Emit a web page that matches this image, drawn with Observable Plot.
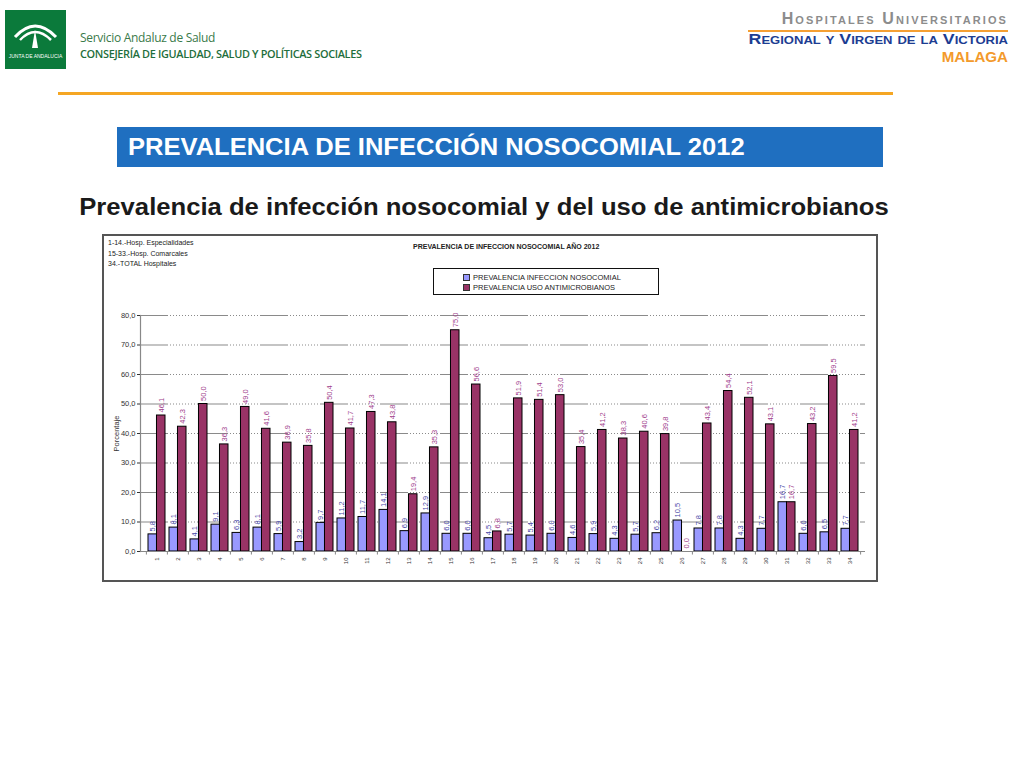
<!DOCTYPE html>
<html>
<head>
<meta charset="utf-8">
<script src="https://cdn.jsdelivr.net/npm/d3@7"></script>
<script src="https://cdn.jsdelivr.net/npm/@observablehq/plot@0.6"></script>
<style>
  body { margin:0; width:1024px; height:768px; background:#fff; font-family:"Liberation Sans", Arial, sans-serif; position:relative; overflow:hidden; }
  .abs { position:absolute; }
  #chartbox { left:103px; top:235px; width:774px; height:346px; outline:2px solid #555; outline-offset:-1px; }
  #chartbox svg { position:absolute; left:0; top:0; }
  .note { font-size:7px; color:#222; line-height:10.5px; }
</style>
</head>
<body>
<!-- Header left -->
<svg class="abs" style="left:5px;top:10px" width="61" height="59" viewBox="0 0 61 59">
  <rect width="61" height="59" fill="#0b7a3b"/>
  <path d="M10 27 Q30 5 51 27" fill="none" stroke="#fff" stroke-width="3"/>
  <path d="M15 30 Q30 14 46 30" fill="none" stroke="#fff" stroke-width="2.5"/>
  <path d="M30 20 L27 38 L33 38 Z" fill="#fff"/>
  <text x="30.5" y="48" text-anchor="middle" font-size="5" fill="#fff" font-family="Liberation Sans">JUNTA DE ANDALUCIA</text>
</svg>
<div class="abs" style="left:80px;top:29px;font-family:'Open Sans';font-size:12px;color:#3a7a4a;letter-spacing:-0.3px">Servicio Andaluz de Salud</div>
<div class="abs" style="left:80px;top:46px;font-family:'Open Sans';font-size:11.3px;font-weight:600;color:#1e6e3c;letter-spacing:-0.35px;white-space:nowrap;transform:scaleX(0.965);transform-origin:left">CONSEJERÍA DE IGUALDAD, SALUD Y POLÍTICAS SOCIALES</div>

<!-- Header right -->
<div class="abs" style="left:749px;top:10px;width:259px;text-align:right;font-size:16px;font-weight:bold;font-variant:small-caps;letter-spacing:2.1px;color:#8c8c8c;white-space:nowrap">Hospitales Universitarios</div>
<div class="abs" style="left:748px;top:30px;width:260px;height:2px;background:#f5a033"></div>
<div class="abs" style="left:749px;top:30px;width:259px;text-align:right;font-size:15px;font-weight:bold;font-variant:small-caps;color:#1c3d92;white-space:nowrap;transform:scaleX(1.185);transform-origin:right">Regional y Virgen de la Victoria</div>
<div class="abs" style="left:900px;top:49px;width:108px;text-align:right;font-size:14px;font-weight:bold;color:#f39a2b;transform:scaleX(1.08);transform-origin:right">MALAGA</div>

<div class="abs" style="left:58px;top:92px;width:835px;height:3px;background:#f5a623"></div>

<div class="abs" style="left:117px;top:127px;width:766px;height:40px;background:#1f6fc0"></div>
<div class="abs" style="left:128px;top:134px;font-size:23px;font-weight:bold;color:#fff;white-space:nowrap;transform:scaleX(1.11);transform-origin:left">PREVALENCIA DE INFECCIÓN NOSOCOMIAL 2012</div>

<div class="abs" style="left:80px;top:194px;width:808px;text-align:center;font-size:23px;font-weight:bold;color:#1a1a1a;white-space:nowrap;transform:scaleX(1.115);transform-origin:center">Prevalencia de infección nosocomial y del uso de antimicrobianos</div>

<div id="chartbox" class="abs">
  <div class="abs note" style="left:5px;top:3px">1-14.-Hosp. Especialidades<br>15-33.-Hosp. Comarcales<br>34.-TOTAL Hospitales</div>
  <div class="abs" style="left:310px;top:8px;font-size:7px;font-weight:bold;color:#222;white-space:nowrap">PREVALENCIA DE INFECCION NOSOCOMIAL AÑO 2012</div>
  <div id="legend" class="abs" style="left:330px;top:33px;width:226px;height:27px;border:1px solid #111;box-sizing:border-box;"></div>
</div>

<script>
// ---- Data ----
const categories = ["1","2","3","4","5","6","7","8","9","10","11","12","13","14","15","16","17","18","19","20","21","22","23","24","25","26","27","28","29","30","31","32","33","34"];
const seriesNames = ["PREVALENCIA INFECCION NOSOCOMIAL", "PREVALENCIA USO ANTIMICROBIANOS"];
const nosocomial = [5.8, 8.1, 4.1, 9.1, 6.3, 8.1, 5.9, 3.2, 9.7, 11.2, 11.7, 14.1, 6.9, 12.9, 6.0, 6.0, 4.5, 5.7, 5.4, 6.0, 4.6, 5.9, 4.3, 5.7, 6.2, 10.5, 7.8, 7.8, 4.3, 7.7, 16.7, 6.0, 6.5, 7.7];
const antimicrobianos = [46.1, 42.3, 50.0, 36.3, 49.0, 41.6, 36.9, 35.8, 50.4, 41.7, 47.3, 43.8, 19.4, 35.3, 75.0, 56.6, 6.8, 51.9, 51.4, 53.0, 35.4, 41.2, 38.3, 40.6, 39.8, 0.0, 43.4, 54.4, 52.1, 43.1, 16.7, 43.2, 59.5, 41.2];
const yTicks = [0, 10, 20, 30, 40, 50, 60, 70, 80];

const colors = ["#9999ff", "#993366"];
const labelColors = ["#4848a8", "#a0408c"];

const nosoData = categories.map((c, i) => ({cat: c, value: nosocomial[i]}));
const antiData = categories.map((c, i) => ({cat: c, value: antimicrobianos[i]}));

const fmt = v => v.toFixed(1).replace(".", ",");

// layout constants
const W = 774, H = 346, ML = 37, MR = 12, MT = 80, MB = 30, PAD = 0.2;
const step = (W - ML - MR) / (categories.length - PAD + 2 * PAD);
const bw = step * (1 - PAD);
const half = bw / 2;

const dashPattern = "28," + Array(10).fill("2,1").join(",") + ",2";

const chart = Plot.plot({
  width: W, height: H,
  marginLeft: ML, marginRight: MR, marginTop: MT, marginBottom: MB,
  style: {fontFamily: "Liberation Sans, Arial, sans-serif", background: "transparent", overflow: "visible"},
  x: {domain: categories, padding: PAD, label: null},
  y: {domain: [0, 80], label: null},
  marks: [
    Plot.ruleY(yTicks.filter(d => d > 0), {stroke: "#8a8a8a", strokeWidth: 1.2, strokeDasharray: dashPattern}),
    Plot.barY(nosoData, {x: "cat", y: "value", fill: colors[0], stroke: "#000", strokeWidth: 1, insetRight: half}),
    Plot.barY(antiData, {x: "cat", y: "value", fill: colors[1], stroke: "#000", strokeWidth: 1, insetLeft: half}),
    Plot.text(nosoData, {x: "cat", y: "value", text: d => fmt(d.value), rotate: -90, textAnchor: "start", dx: -half / 2, dy: -3, fontSize: 7.5, fill: labelColors[0]}),
    Plot.text(antiData, {x: "cat", y: "value", text: d => fmt(d.value), rotate: -90, textAnchor: "start", dx: half / 2, dy: -3, fontSize: 7.5, fill: labelColors[1]}),
    Plot.ruleY([0], {stroke: "#888", strokeWidth: 1.2}),
    Plot.ruleX(categories, {x: d => d, y1: 0, y2: -1.2, dx: -step / 2, stroke: "#888"}),
    Plot.ruleX(categories.slice(-1), {x: d => d, y1: 0, y2: -1.2, dx: step / 2, stroke: "#888"}),
    Plot.frame({anchor: "left", stroke: "#888", strokeWidth: 1.2}),
    Plot.axisY({ticks: yTicks, tickFormat: fmt, tickSize: 3, tickPadding: 2, fontSize: 7.5, color: "#333", label: "Porcentaje", labelAnchor: "center", labelArrow: "none", labelOffset: 27}),
    Plot.axisX({tickSize: 0, tickRotate: -90, tickPadding: 6, fontSize: 6, color: "#333", label: null})
  ]
});
document.getElementById("chartbox").prepend(chart);

// legend
const leg = d3.select("#legend");
seriesNames.forEach((name, i) => {
  const row = leg.append("div")
    .style("position", "absolute").style("left", "29px").style("top", (4 + i * 10) + "px")
    .style("font-size", "7.5px").style("color", "#222").style("white-space", "nowrap")
    .style("display", "flex").style("align-items", "center");
  row.append("span").style("display", "inline-block").style("width", "5px").style("height", "5px")
    .style("background", colors[i]).style("border", "1px solid #333").style("margin-right", "3px");
  row.append("span").text(name);
});
</script>
</body>
</html>
